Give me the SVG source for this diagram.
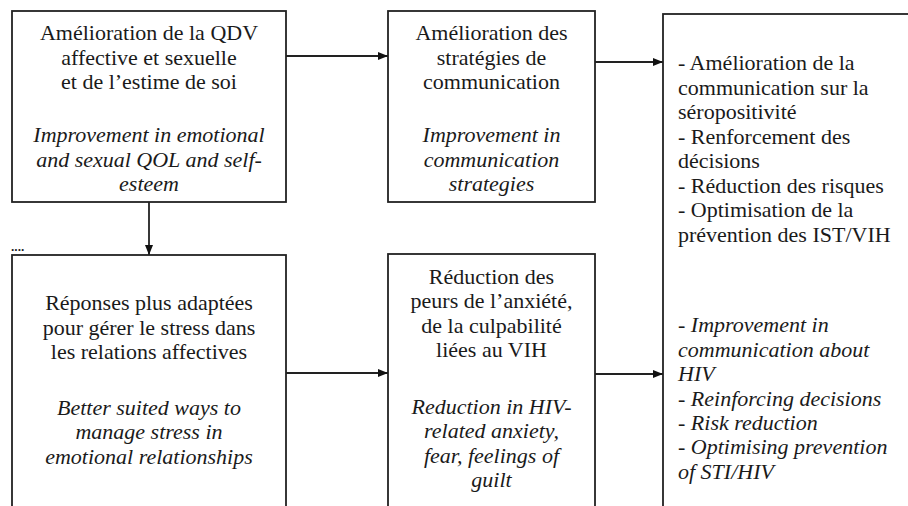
<svg xmlns="http://www.w3.org/2000/svg" width="908" height="506" viewBox="0 0 908 506">
<style>
.box{fill:#fff;stroke:#222;stroke-width:1.8}
.t{font-size:22px;fill:#1a1a1a}
.c{text-anchor:middle}
.i{font-style:italic}
.edge{stroke:#222;stroke-width:1.8;fill:none;marker-end:url(#ah)}
</style>
<defs>
<marker id="ah" viewBox="0 0 10 10" refX="10" refY="5" markerWidth="10" markerHeight="10" markerUnits="userSpaceOnUse" orient="auto">
<path d="M0,1 L10,5 L0,9 Z" fill="#111"/>
</marker>
</defs>
<rect width="908" height="506" fill="#fff"/>
<g id="connectors">
<path class="edge" d="M286,56 L388,56"/>
<path class="edge" d="M595,62 L663,62"/>
<path class="edge" d="M149,202 L149,255"/>
<path class="edge" d="M286,373 L388,373"/>
<path class="edge" d="M595,374 L663,374"/>
</g>
<g font-family="Liberation Serif, Times New Roman, serif">
<g id="n1">
<rect class="box" x="12" y="11" width="274" height="191"/>
<text class="t c" x="149" y="40">Amélioration de la QDV</text>
<text class="t c" x="149" y="65">affective et sexuelle</text>
<text class="t c" x="149" y="89">et de l’estime de soi</text>
<text class="t c i" x="149" y="142">Improvement in emotional</text>
<text class="t c i" x="149" y="167">and sexual QOL and self-</text>
<text class="t c i" x="149" y="191">esteem</text>
</g>
<g id="n2">
<rect class="box" x="388" y="11" width="207" height="191"/>
<text class="t c" x="491.5" y="40">Amélioration des</text>
<text class="t c" x="491.5" y="65">stratégies de</text>
<text class="t c" x="491.5" y="89">communication</text>
<text class="t c i" x="491.5" y="142">Improvement in</text>
<text class="t c i" x="491.5" y="167">communication</text>
<text class="t c i" x="491.5" y="191">strategies</text>
</g>
<g id="n3">
<rect class="box" x="663" y="14" width="260" height="500"/>
<text class="t" x="678" y="70">- Amélioration de la</text>
<text class="t" x="678" y="95">communication sur la</text>
<text class="t" x="678" y="119">séropositivité</text>
<text class="t" x="678" y="144">- Renforcement des</text>
<text class="t" x="678" y="168">décisions</text>
<text class="t" x="678" y="193">- Réduction des risques</text>
<text class="t" x="678" y="217">- Optimisation de la</text>
<text class="t" x="678" y="242">prévention des IST/VIH</text>
<text class="t i" x="678" y="332">- Improvement in</text>
<text class="t i" x="678" y="357">communication about</text>
<text class="t i" x="678" y="381">HIV</text>
<text class="t i" x="678" y="406">- Reinforcing decisions</text>
<text class="t i" x="678" y="430">- Risk reduction</text>
<text class="t i" x="678" y="454">- Optimising prevention</text>
<text class="t i" x="678" y="479">of STI/HIV</text>
</g>
<g id="n4">
<rect class="box" x="12" y="255" width="274" height="260"/>
<text class="t c" x="149" y="310">Réponses plus adaptées</text>
<text class="t c" x="149" y="335">pour gérer le stress dans</text>
<text class="t c" x="149" y="359">les relations affectives</text>
<text class="t c i" x="149" y="415">Better suited ways to</text>
<text class="t c i" x="149" y="439">manage stress in</text>
<text class="t c i" x="149" y="464">emotional relationships</text>
</g>
<g id="n5">
<rect class="box" x="388" y="254" width="207" height="261"/>
<text class="t c" x="491.5" y="284">Réduction des</text>
<text class="t c" x="491.5" y="308">peurs de l’anxiété,</text>
<text class="t c" x="491.5" y="333">de la culpabilité</text>
<text class="t c" x="491.5" y="357">liées au VIH</text>
<text class="t c i" x="491.5" y="414">Reduction in HIV-</text>
<text class="t c i" x="491.5" y="438">related anxiety,</text>
<text class="t c i" x="491.5" y="463">fear, feelings of</text>
<text class="t c i" x="491.5" y="487">guilt</text>
</g>
</g>
<g id="dots">
<text x="11" y="251" font-family="Liberation Sans, Arial, sans-serif" font-size="12" font-weight="bold" fill="#222">....</text>
</g>
</svg>
